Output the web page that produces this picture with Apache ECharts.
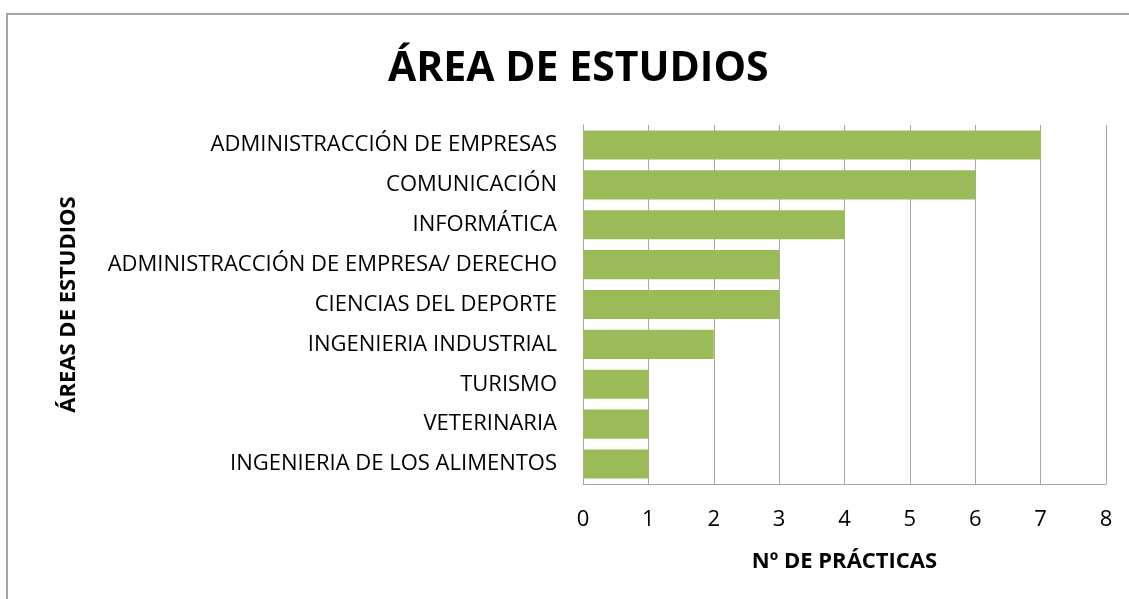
<!DOCTYPE html>
<html>
<head>
<meta charset="utf-8">
<script src="https://cdn.jsdelivr.net/npm/echarts@6/dist/echarts.min.js"></script>
<style>
  html, body { margin: 0; padding: 0; background: #fff; }
  #frame { position: absolute; left: 6px; top: 13px; width: 1140px; height: 600px; border-left: 2px solid #a6a6a6; border-top: 2px solid #a6a6a6; }
  #chart { position: absolute; left: 0; top: 0; width: 1129px; height: 599px; }
</style>
</head>
<body>
<div id="frame"></div>
<div id="chart"></div>
<script>
var categories = [
    'INGENIERIA DE LOS ALIMENTOS',
    'VETERINARIA',
    'TURISMO',
    'INGENIERIA INDUSTRIAL',
    'CIENCIAS DEL DEPORTE',
    'ADMINISTRACCIÓN DE EMPRESA/ DERECHO',
    'INFORMÁTICA',
    'COMUNICACIÓN',
    'ADMINISTRACCIÓN DE EMPRESAS'
];
var practicas = [1, 1, 1, 2, 3, 3, 4, 6, 7];
var font = '"Open Sans", Lato, sans-serif';

var myChart = echarts.init(document.getElementById('chart'));
var option = {
    backgroundColor: 'transparent',
    animation: false,
    title: {
        text: 'ÁREA DE ESTUDIOS',
        left: 383,
        top: 44,
        textStyle: { fontFamily: font, fontSize: 41, fontWeight: 'bold', color: '#000' }
    },
    grid: {
        left: 583,
        right: 23,
        top: 125,
        bottom: 115
    },
    xAxis: {
        type: 'value',
        min: 0,
        max: 8,
        interval: 1,
        name: 'Nº DE PRÁCTICAS',
        nameLocation: 'middle',
        nameGap: 67,
        nameTextStyle: { fontFamily: font, fontSize: 22, fontWeight: 'bold', color: '#000' },
        axisLine: { show: true, lineStyle: { color: '#a6a6a6', width: 1 } },
        axisTick: { show: false },
        axisLabel: { fontFamily: font, fontSize: 22, color: '#000', margin: 25 },
        splitLine: { show: true, lineStyle: { color: '#a6a6a6', width: 1 } }
    },
    yAxis: {
        type: 'category',
        data: categories,
        name: 'ÁREAS DE ESTUDIOS',
        nameLocation: 'middle',
        nameRotate: 90,
        nameGap: 503,
        nameTextStyle: { fontFamily: font, fontSize: 22, fontWeight: 'bold', color: '#000' },
        axisLine: { show: true, lineStyle: { color: '#a6a6a6', width: 1 } },
        axisTick: { show: false },
        axisLabel: { fontFamily: font, fontSize: 22, color: '#000', margin: 26 }
    },
    series: [{
        type: 'bar',
        data: practicas,
        barCategoryGap: '27%',
        itemStyle: { color: '#9bbb59' }
    }]
};
myChart.setOption(option);
</script>
</body>
</html>
